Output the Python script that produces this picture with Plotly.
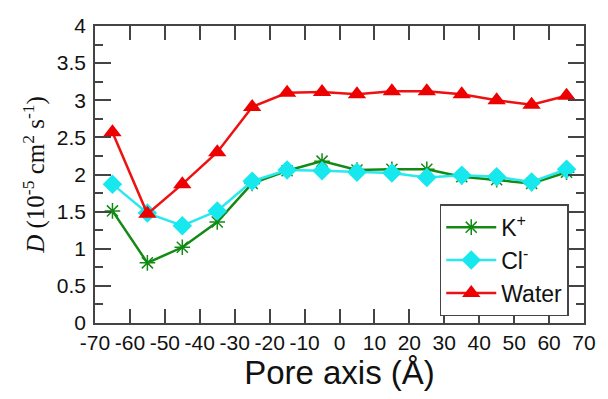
import plotly.graph_objects as go

x_pos = [-65, -55, -45, -35, -25, -15, -5, 5, 15, 25, 35, 45, 55, 65]
k_vals = [1.51, 0.81, 1.02, 1.36, 1.88, 2.05, 2.18, 2.06, 2.07, 2.07, 1.97, 1.93, 1.88, 2.03]
cl_vals = [1.87, 1.48, 1.31, 1.51, 1.91, 2.06, 2.05, 2.03, 2.02, 1.96, 1.99, 1.97, 1.90, 2.07]
water_vals = [2.57, 1.47, 1.87, 2.30, 2.91, 3.10, 3.11, 3.08, 3.12, 3.12, 3.08, 3.00, 2.94, 3.06]
x_ticks = list(range(-70, 71, 10))
x_tick_text = ["-70", "-60", "-50", "-40", "-30", "-20", "-10", "0", "10", "20", "30", "40", "50", "60", "70"]
y_ticks = [0, 0.5, 1, 1.5, 2, 2.5, 3, 3.5, 4]
y_tick_text = ["0", "0.5", "1", "1.5", "2", "2.5", "3", "3.5", "4"]

fig = go.Figure()
fig.add_trace(go.Scatter(x=x_pos, y=k_vals, name="K<sup>+</sup>", mode="lines+markers",
                         line=dict(color="#138a13", width=2.5),
                         marker=dict(symbol="asterisk-open", size=13,
                                     line=dict(color="#138a13", width=1.5))))
fig.add_trace(go.Scatter(x=x_pos, y=cl_vals, name="Cl<sup>-</sup>", mode="lines+markers",
                         line=dict(color="#2ae8ee", width=2.5),
                         marker=dict(symbol="diamond", size=15, color="#17e8ee")))
fig.add_trace(go.Scatter(x=x_pos, y=water_vals, name="Water", mode="lines+markers",
                         line=dict(color="#ee1111", width=2.5),
                         marker=dict(symbol="triangle-up", size=16, color="#ee0000")))

axis_common = dict(showline=True, linecolor="#444", linewidth=1.5, mirror="ticks",
                   ticks="inside", tickcolor="#444", tickwidth=1.5, showgrid=False,
                   zeroline=False, tickfont=dict(family="Liberation Sans, Arial", size=21, color="#111"))

fig.update_xaxes(range=[-70, 70], tickvals=x_ticks, ticktext=x_tick_text, ticklen=14, ticklabelstandoff=0,
                 title=dict(text="Pore axis (Å)", font=dict(family="Liberation Sans, Arial", size=33, color="#111"),
                            standoff=8),
                 **axis_common)
fig.update_yaxes(range=[0, 4], tickvals=y_ticks, ticktext=y_tick_text, ticklen=16, ticklabelstandoff=3,
                 minor=dict(dtick=0.25, tick0=0, ticks="inside", ticklen=8, tickcolor="#444", tickwidth=1.5, showgrid=False),
                 title=dict(text="<i>D</i> (10<sup>-5</sup> cm<sup>2</sup> s<sup>-1</sup>)",
                            font=dict(family="Liberation Serif, Times New Roman", size=25, color="#111"),
                            standoff=5),
                 **axis_common)

fig.update_layout(
    width=608, height=399,
    margin=dict(l=95, r=16, t=26, b=76),
    plot_bgcolor="white", paper_bgcolor="white",
    showlegend=True,
    legend=dict(x=0.705, y=0.40, xanchor="left", yanchor="top",
                bgcolor="white", bordercolor="#444", borderwidth=1.5,
                font=dict(family="Liberation Sans, Arial", size=23, color="#111"),
                tracegroupgap=0, itemwidth=50),
)

fig.write_html("out.html")
